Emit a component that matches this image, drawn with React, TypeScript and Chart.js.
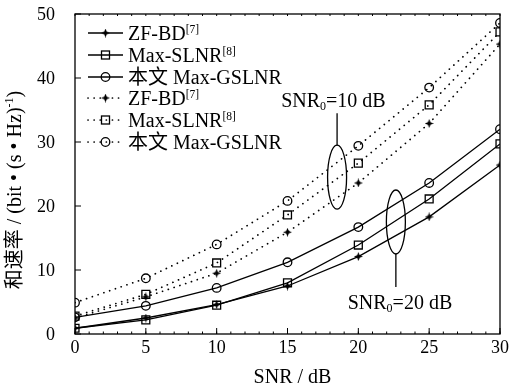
import { useEffect, useRef } from 'react';
import { Chart, registerables } from 'chart.js';
Chart.register(...registerables);

// ---- data ----
const snr = [0, 5, 10, 15, 20, 25, 30];
const zfbd20 = [0.9, 2.5, 4.6, 7.5, 12.1, 18.3, 26.4];
const slnr20 = [0.9, 2.2, 4.5, 8.0, 13.9, 21.1, 29.7];
const gslnr20 = [2.6, 4.4, 7.2, 11.2, 16.7, 23.6, 32.0];
const zfbd10 = [2.5, 5.8, 9.5, 15.9, 23.6, 32.9, 45.3];
const slnr10 = [2.8, 6.2, 11.1, 18.6, 26.7, 35.8, 47.2];
const gslnr10 = [4.9, 8.7, 14.0, 20.8, 29.4, 38.5, 48.6];

const xTicks = [0, 5, 10, 15, 20, 25, 30];
const yTicks = [0, 10, 20, 30, 40, 50];

const legendNames = ['ZF-BD', 'Max-SLNR', '本文 Max-GSLNR', 'ZF-BD', 'Max-SLNR', '本文 Max-GSLNR'];
const legendRefs = ['[7]', '[8]', '', '[7]', '[8]', ''];
const legendMarkers = ['star', 'rect', 'circle', 'star', 'rect', 'circle'];
const legendDotted = [false, false, false, true, true, true];

// annotations (data units)
const ann10 = { cx: 18.5, cy: 24.5, lineTop: 34.5, textX: 14.55, textY: 35.45, label: '10' };
const ann20 = { cx: 22.65, cy: 17.5, lineBottom: 7.35, textX: 19.25, textY: 3.9, label: '20' };

const SERIF = "'Liberation Serif', 'Times New Roman', serif";
const MIXED = "'Liberation Serif', 'Noto Sans CJK SC', serif";

function makeStar(): HTMLCanvasElement {
  const c = document.createElement('canvas');
  c.width = 9; c.height = 9;
  const g = c.getContext('2d')!;
  g.fillStyle = '#000';
  g.beginPath();
  g.moveTo(4.5, 0);
  g.lineTo(5.8, 3.2);
  g.lineTo(9, 4.5);
  g.lineTo(5.8, 5.8);
  g.lineTo(4.5, 9);
  g.lineTo(3.2, 5.8);
  g.lineTo(0, 4.5);
  g.lineTo(3.2, 3.2);
  g.closePath();
  g.fill();
  return c;
}

type Part = { t: string; size: number; dy: number };
function richWidth(ctx: CanvasRenderingContext2D, parts: Part[]) {
  let w = 0;
  for (const p of parts) { ctx.font = `${p.size}px ${MIXED}`; w += ctx.measureText(p.t).width; }
  return w;
}
function drawRich(ctx: CanvasRenderingContext2D, x: number, y: number, parts: Part[]) {
  let cx = x;
  ctx.textBaseline = 'alphabetic';
  ctx.textAlign = 'left';
  for (const p of parts) {
    ctx.font = `${p.size}px ${MIXED}`;
    ctx.fillText(p.t, cx, y + p.dy);
    cx += ctx.measureText(p.t).width;
  }
}

export default function App() {
  const ref = useRef<HTMLCanvasElement>(null);
  useEffect(() => {
    const star = makeStar();
    const pts = (ys: number[]) => snr.map((x, i) => ({ x, y: ys[i] }));
    const base = {
      borderColor: '#000',
      borderWidth: 1.3,
      pointBackgroundColor: 'rgba(0,0,0,0)',
      pointBorderColor: '#000',
      pointBorderWidth: 1.3,
      fill: false,
      tension: 0,
    };
    const dotted = { borderDash: [0.1, 6], borderCapStyle: 'round' as const, borderWidth: 1.7 };
    const styles: any[] = [
      { pointStyle: star, pointRadius: 4 },
      { pointStyle: 'rect', pointRadius: 5.6 },
      { pointStyle: 'circle', pointRadius: 4.3 },
    ];
    const datasets: any[] = [
      { ...base, ...styles[0], data: pts(zfbd20) },
      { ...base, ...styles[1], data: pts(slnr20) },
      { ...base, ...styles[2], data: pts(gslnr20) },
      { ...base, ...dotted, ...styles[0], data: pts(zfbd10) },
      { ...base, ...dotted, ...styles[1], data: pts(slnr10) },
      { ...base, ...dotted, ...styles[2], data: pts(gslnr10) },
    ];

    const deco = {
      id: 'deco',
      afterDraw(chart: any) {
        const { ctx, chartArea: ca } = chart;
        const xs = chart.scales.x, ys = chart.scales.y;
        const X = (v: number) => xs.getPixelForValue(v);
        const Y = (v: number) => ys.getPixelForValue(v);
        ctx.save();
        ctx.strokeStyle = '#000';
        ctx.fillStyle = '#000';
        ctx.setLineDash([]);
        // frame
        ctx.lineWidth = 1.3;
        ctx.strokeRect(ca.left, ca.top, ca.right - ca.left, ca.bottom - ca.top);
        // ticks
        ctx.lineWidth = 1;
        const seg = (a: number, b: number, c: number, d: number) => {
          ctx.beginPath(); ctx.moveTo(a, b); ctx.lineTo(c, d); ctx.stroke();
        };
        for (const v of xTicks) seg(X(v), ca.bottom, X(v), ca.bottom - 6);
        for (let v = xTicks[0]; v <= xTicks[xTicks.length - 1]; v++) {
          seg(X(v), ca.bottom, X(v), ca.bottom - 2.5);
          seg(X(v), ca.top, X(v), ca.top + 2);
        }
        for (const v of yTicks) seg(ca.left, Y(v), ca.left + 6, Y(v));

        // tick labels
        ctx.font = `18px ${SERIF}`;
        ctx.textBaseline = 'alphabetic';
        ctx.textAlign = 'center';
        for (const v of xTicks) ctx.fillText(String(v), X(v), ca.bottom + 19);
        ctx.textAlign = 'right';
        for (const v of yTicks) ctx.fillText(String(v), ca.left - 20, Y(v) + 6);

        // legend
        const rowY = [33, 55, 77, 98, 120, 142];
        const sx0 = 88, sx1 = 123, mx = 105.5, tx = 128;
        for (let i = 0; i < 6; i++) {
          const yy = rowY[i];
          ctx.lineWidth = legendDotted[i] ? 1.7 : 1.3;
          ctx.lineCap = legendDotted[i] ? 'round' : 'butt';
          ctx.setLineDash(legendDotted[i] ? [0.1, 6] : []);
          seg(sx0, yy, sx1, yy);
          ctx.setLineDash([]);
          ctx.lineCap = 'butt';
          ctx.lineWidth = 1.3;
          const m = legendMarkers[i];
          if (m === 'star') ctx.drawImage(star, mx - 4.5, yy - 4.5);
          else if (m === 'rect') { ctx.strokeRect(mx - 4, yy - 4, 8, 8); }
          else { ctx.beginPath(); ctx.arc(mx, yy, 4.3, 0, Math.PI * 2); ctx.stroke(); }
          const parts: Part[] = [{ t: legendNames[i], size: 20, dy: 0 }];
          if (legendRefs[i]) parts.push({ t: legendRefs[i], size: 11.5, dy: -7.5 });
          drawRich(ctx, tx, yy + 7, parts);
        }

        // annotations
        ctx.lineWidth = 1.3;
        ctx.setLineDash([]);
        const ell = (cx: number, cy: number) => {
          ctx.beginPath(); ctx.ellipse(X(cx), Y(cy), 9.5, 32, 0, 0, Math.PI * 2); ctx.stroke();
        };
        ell(ann10.cx, ann10.cy);
        seg(X(ann10.cx), Y(ann10.cy) - 32, X(ann10.cx), Y(ann10.lineTop));
        ell(ann20.cx, ann20.cy);
        seg(X(ann20.cx), Y(ann20.cy) + 32, X(ann20.cx), Y(ann20.lineBottom));
        const snrParts = (lab: string): Part[] => [
          { t: 'SNR', size: 20, dy: 0 },
          { t: '0', size: 12, dy: 3 },
          { t: `=${lab} dB`, size: 20, dy: 0 },
        ];
        drawRich(ctx, X(ann10.textX), Y(ann10.textY), snrParts(ann10.label));
        drawRich(ctx, X(ann20.textX), Y(ann20.textY), snrParts(ann20.label));

        // x title
        const xt: Part[] = [{ t: 'SNR / dB', size: 20, dy: 0 }];
        const xw = richWidth(ctx, xt);
        drawRich(ctx, (ca.left + ca.right) / 2 + 5 - xw / 2, 383, xt);

        // y title
        const yt: Part[] = [
          { t: '和速率 / (bit • (s • Hz)', size: 20, dy: 0 },
          { t: '-1', size: 12, dy: -8 },
          { t: ')', size: 20, dy: 0 },
        ];
        const yw = richWidth(ctx, yt);
        ctx.translate(21, 190);
        ctx.rotate(-Math.PI / 2);
        drawRich(ctx, -yw / 2, 0, yt);
        ctx.restore();
      },
    };

    const chart = new Chart(ref.current!, {
      type: 'line',
      data: { datasets },
      plugins: [deco],
      options: {
        responsive: false,
        animation: false,
        layout: { padding: { left: 0, right: 11, top: 14, bottom: 0 } },
        plugins: { legend: { display: false }, tooltip: { enabled: false } },
        scales: {
          x: {
            type: 'linear', min: 0, max: 30,
            afterBuildTicks: (s: any) => { s.ticks = xTicks.map((v) => ({ value: v })); },
            ticks: { display: false },
            grid: { display: false }, border: { display: false },
            afterFit: (s: any) => { s.height = 51; s.paddingLeft = 0; s.paddingRight = 0; },
          },
          y: {
            type: 'linear', min: 0, max: 50,
            afterBuildTicks: (s: any) => { s.ticks = yTicks.map((v) => ({ value: v })); },
            ticks: { display: false },
            grid: { display: false }, border: { display: false },
            afterFit: (s: any) => { s.width = 75; s.paddingTop = 0; s.paddingBottom = 0; },
          },
        },
      } as any,
    });
    return () => chart.destroy();
  }, []);
  return (
    <div style={{ position: 'fixed', left: 0, top: 0, width: 511, height: 385, background: '#fff' }}>
      <canvas ref={ref} width={511} height={385} style={{ display: 'block' }} />
    </div>
  );
}
